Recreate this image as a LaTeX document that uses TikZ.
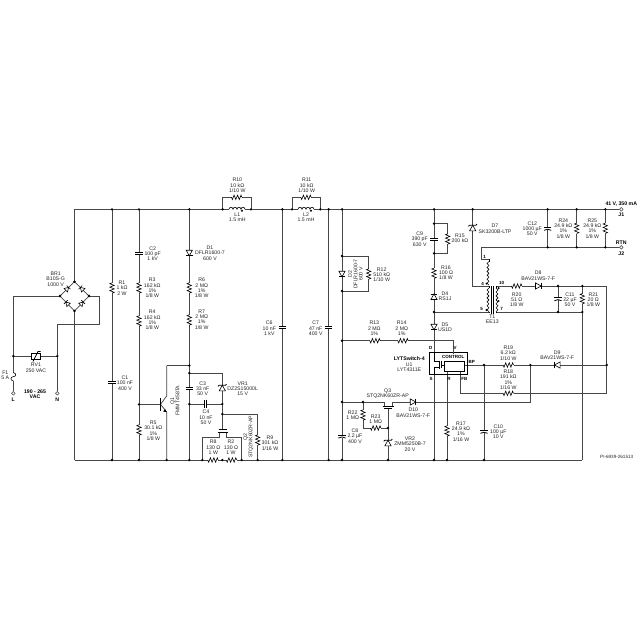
\documentclass[tikz,border=0pt]{standalone}
\usepackage{fontspec}
\setmainfont{Liberation Sans}
\newcommand\lbl[4]{\node[lb] (#1) at (#2,#3) {#4};}
\newcommand\lblb[4]{\node[lbb] (#1) at (#2,#3) {#4};}
\newcommand\pnt[3]{\coordinate (#1) at (#2,#3);}
\tikzset{
  wire/.style={line width=0.75pt,draw=black!72,line join=miter},
  sym/.style={line width=0.6pt,draw=black,line join=miter},
  plate/.style={line width=0.8pt,draw=black},
  dotj/.style={circle,fill=black,inner sep=0,minimum size=2.6pt},
  term/.style={circle,draw=black!75,line width=0.5pt,fill=white,inner sep=0,minimum size=3.6pt},
  lb/.style={font=\fontsize{5.2}{5.3}\selectfont,align=center,inner sep=0,text=black!85},
  lbb/.style={font=\fontsize{5.2}{5.3}\selectfont\bfseries,align=center,inner sep=0,text=black},
  lbs/.style={font=\fontsize{4.5}{5}\selectfont\bfseries,align=center,inner sep=0,text=black},
  rvert/.pic={
    \fill[white] (-2.6,-5.2) rectangle (2.6,5.2);
    \draw[sym] (0,-5.2)--(-2.2,-4.3)--(2.2,-2.6)--(-2.2,-.9)--(2.2,.9)--(-2.2,2.6)--(2.2,4.3)--(0,5.2);
  },
  ccap/.pic={
    \fill[white] (-3.6,-1) rectangle (3.6,1);
    \draw[plate] (-3.6,-1)--(3.6,-1) (-3.6,1)--(3.6,1);
  },
  pcap/.pic={
    \fill[white] (-3.6,-1) rectangle (3.6,1.6);
    \draw[plate] (-3.6,-1)--(3.6,-1);
    \draw[plate] (-3.6,2) .. controls (-1.5,.6) and (1.5,.6) .. (3.6,2);
  },
  diode/.pic={
    \filldraw[sym,fill=white] (-2.8,-3.1)--(2.8,0)--(-2.8,3.1)--cycle;
    \draw[plate] (2.8,-3.3)--(2.8,3.3);
  },
  sdiode/.pic={
    \filldraw[sym,fill=white] (-2,-2.4)--(2,0)--(-2,2.4)--cycle;
    \draw[sym] (2,-2.6)--(2,2.6);
  },
  zener/.pic={
    \filldraw[sym,fill=white] (-2.8,-3.1)--(2.8,0)--(-2.8,3.1)--cycle;
    \draw[plate] (1.6,-4.2)--(2.8,-3.3)--(2.8,3.3)--(4,4.2);
  },
  hcoil/.pic={
    \fill[white] (-8,-2.6) rectangle (8,.6);
    \draw[sym] (-8,0) arc (180:360:2) arc (180:360:2) arc (180:360:2) arc (180:360:2);
    \fill[black] (5,1.4) circle (1.1pt);
  },
  tcoil/.pic={
    \foreach \i in {0,...,5} \draw[sym] (0,\i*3.95) arc (-90:90:1.975);
  },
}
\begin{document}
\begin{tikzpicture}[x=1pt,y=-1pt]
\fill[white] (0,0) rectangle (640,640);
\useasboundingbox (0,0) rectangle (640,640);
% rails
\foreach \n/\x in {TA/74.5,TB/112,TC/139,TD/189.3,TE/222.7,TF/251,TG/282.3,TH/292,TI/320.3,TJ/328.7,TK/342,TM/434,TN/472.7,TP/547.7,TQ/576.7,TR/605.3}
  {\coordinate (\n) at (\x,209.3);}
\foreach \n/\x in {BA/74.5,BB/112,BC/139,BP1/166.7,BD/189.3,BE/202.3,BF/222.3,BG/241.7,BH/257.7,BI/282.3,BJ/328.7,BK/342,BM/388,BN/434,BS/447,BQ/484,BR/582.3}
  {\coordinate (\n) at (\x,460);}
\foreach \n/\x in {RP/547.7,RQ/576.7,RR/605.3}
  {\coordinate (\n) at (\x,247.3);}
\node[term] (J1) at (621.3,209.3) {};
\node[term] (J2) at (621.3,247.3) {};
\node[term] (tL) at (13.3,393.3) {};
\node[term] (tN) at (57.3,393.3) {};
% points
\pnt{brT}{74.5}{281.7}\pnt{brL}{60}{296}\pnt{brR}{89}{296}\pnt{brB}{74.5}{311}
\pnt{br1}{99.3}{296}\pnt{br2}{99.3}{324.7}\pnt{br3}{57.3}{324.7}
\pnt{rvL}{13.3}{356}\pnt{rvR}{57.3}{356}
\pnt{cJ}{189.3}{365.5}\pnt{cC}{166.7}{365.5}\pnt{vA}{189.3}{373}\pnt{vB}{222.3}{373}
\pnt{nB}{139}{404.3}\pnt{nC}{189.3}{404}\pnt{nD}{222.3}{404}\pnt{nE}{222.3}{414}\pnt{nF}{257.7}{414}
\pnt{qB}{160.5}{404.3}\pnt{qC}{166.7}{396}\pnt{qE}{166.7}{412}
\pnt{lA}{222.7}{197.3}\pnt{lB}{251}{197.3}\pnt{lC}{292}{197.3}\pnt{lD}{320.3}{197.3}
\pnt{dA}{342}{256}\pnt{dB}{342}{291}\pnt{dC}{368.7}{256}\pnt{dD}{368.7}{291}
\pnt{cA}{434}{223.7}\pnt{cB}{434}{253.3}\pnt{cAr}{447.7}{223.7}\pnt{cBr}{447.7}{253.3}
\pnt{pSW}{434}{312}\pnt{uD}{434}{352.3}\pnt{uS}{434}{374.3}
\pnt{rA}{342}{340.7}\pnt{rB}{453.3}{340.7}\pnt{uV}{453.3}{352.3}
\pnt{uR}{447}{371}\pnt{uFB}{460}{371}\pnt{uBP}{464}{365}
\pnt{nBP}{484}{365}\pnt{nD9}{530.3}{365}\pnt{nR}{606.7}{365}
\pnt{fbA}{460}{393.3}\pnt{fbB}{606.7}{393.3}
\pnt{gA}{342}{402}\pnt{gB}{363}{402}\pnt{gC}{384}{402}\pnt{gD}{392}{402}\pnt{gE}{530.3}{402}
\pnt{gF}{363}{428}\pnt{gG}{388}{428}
\pnt{d7b}{472.7}{286}\pnt{prA}{489}{286}\pnt{prB}{489}{312}\pnt{sA}{496}{286}\pnt{sB}{496}{312}
\pnt{rtnA}{481.7}{247.3}\pnt{rtnB}{481.7}{259}\pnt{rtnC}{489}{259}
\pnt{sC}{558}{286}\pnt{sD}{582.3}{286}\pnt{sE}{606.7}{286}\pnt{sF}{558}{312}\pnt{sG}{582.3}{312}
\pnt{q2a}{202.3}{437.3}\pnt{q2b}{219}{437.3}\pnt{q2c}{219}{432.5}\pnt{q2d}{226}{432.5}\pnt{q2e}{226}{437.3}\pnt{q2f}{241.7}{437.3}\pnt{q2g}{222.3}{429}
\pnt{q3a}{384}{406}\pnt{q3b}{392}{406}\pnt{q3g}{388}{408}
% wires
\draw[wire] (TA)--(J1.west) (BA)--(BR);
\draw[wire] (TA)--(brT) (brB)--(BA);
\draw[wire] (brL)--(brT)--(brR)--(brB)--cycle;
\draw[wire] (brL)-|(tL.north);
\draw[wire] (brR)--(br1)--(br2)--(br3)--(tN.north);
\draw[wire] (rvL)--(rvR);
\foreach \a/\b in {TB/BB,TC/BC,TD/BD,TG/BI,TJ/BJ,TK/BK} \draw[wire] (\a)--(\b);
\draw[wire] (cC)--(cJ);
\draw[wire] (cC)--(qC)--(qB);
\draw[wire] (BP1)--(qE)--(qB);
\draw[wire] (nB)--(qB);
\draw[wire] (vA)--(vB)--(nD)--(nC);
\draw[wire] (nD)--(nE)--(nF)--(BH);
\draw[wire] (nE)--(q2g);
\draw[wire] (BE)--(q2a)--(q2b)--(q2c);
\draw[wire] (q2d)--(q2e)--(q2f)--(BG);
\draw[wire] (TE)--(lA)--(lB)--(TF);
\draw[wire] (TH)--(lC)--(lD)--(TI);
\draw[wire] (dA)--(dC)--(dD)--(dB);
\draw[wire] (TM)--(uD);
\draw[wire] (uS)--(BN);
\draw[wire] (cA)--(cAr)--(cBr)--(cB);
\draw[wire] (pSW)--(prB);
\draw[wire] (rA)--(rB)--(uV);
\draw[wire] (uR)--(BS);
\draw[wire] (uFB)--(fbA)--(fbB)--(nR);
\draw[wire] (uBP)--(nR);
\draw[wire] (nBP)--(BQ);
\draw[wire] (gA)--(gC)--(q3a);
\draw[wire] (q3b)--(gD)--(gE)--(nD9);
\draw[wire] (gB)--(gF)--(gG);
\draw[wire] (q3g)--(BM);
\draw[wire] (TN)--(d7b)--(prA);
\draw[wire] (rtnA)--(RR)--(J2.west);
\draw[wire] (rtnA)--(rtnB)--(rtnC);
\draw[wire] (sA)--(sE)--(nR);
\draw[wire] (sB)--(sG);
\draw[wire] (sD)--(BR);
\draw[wire] (sC)--(sF);
\draw[wire] (TP)--(RP) (TQ)--(RQ) (TR)--(RR);
% resistors
\foreach \x/\y in {112/288,139/288,139/321,139/430,189.3/288,189.3/320,257.7/440,368.7/274,447.7/239,434/273.3,363/415,447/431,576.7/228.3,605.3/228.3,582.3/298.7}
  \pic at (\x,\y) {rvert};
\foreach \x/\y in {236.7/197.3,306/197.3,213/460,231.5/460,375/340.7,403/340.7,375.7/428,516.7/286,508.3/365,508.3/393.3}
  \pic[rotate=90] at (\x,\y) {rvert};
% capacitors
\foreach \x/\y in {112/382.7,139/253,189.3/388,282.3/327.7,328.7/327.7,434/239}
  \pic at (\x,\y) {ccap};
\pic[rotate=90] at (205.7,404) {ccap};
\foreach \x/\y in {342/436,484/431.3,547.7/228.3,558/298.7}
  \pic at (\x,\y) {pcap};
% diodes
\foreach \x/\y in {189.3/253,342/274,434/327}
  \pic[rotate=-90] at (\x,\y) {diode};
\pic[rotate=90] at (434,296.7) {diode};
\pic at (538.3,286) {diode};
\pic at (413,402) {diode};
\pic[rotate=180] at (557.3,365) {diode};
\pic[rotate=90] at (472.7,228) {zener};
\pic[rotate=90] at (222.3,388) {zener};
\pic[rotate=90] at (388,443) {zener};
\pic[rotate=45] at (67.2,288.8) {sdiode};
\pic[rotate=135] at (81.8,288.8) {sdiode};
\pic[rotate=135] at (67.2,303.5) {sdiode};
\pic[rotate=45] at (81.8,303.5) {sdiode};
% fuse
\fill[white] (11,372.7) rectangle (15.6,380.7);
\draw[sym] (13.3,372.7) .. controls (16.5,372.7) and (16.5,376.7) .. (13.3,376.7) .. controls (10.1,376.7) and (10.1,380.7) .. (13.3,380.7);
% varistor
\filldraw[sym,fill=white] (31,353.3) rectangle (40,359.7);
\draw[plate] (33,361.5)--(38,351.5)--(40.5,351.5);
% inductors
\pic at (237,209.3) {hcoil};
\pic at (306,209.3) {hcoil};
% transformer
\pic[xscale=-1] at (489,261.5) {tcoil};
\draw[sym] (rtnC)--(489,261.5);
\pic[xscale=-1] at (489,288) {tcoil};
\pic at (496,288) {tcoil};
\draw[sym] (489,286)--(489,288) (496,286)--(496,288) (489,311.7)--(489,312) (496,311.7)--(496,312);
\draw[plate] (491.7,286)--(491.7,314) (493.6,286)--(493.6,314);
\fill[black] (486.5,283.6) circle (1.1pt) (498.6,288.2) circle (1.1pt) (498.6,301) circle (1.1pt) (486.5,310) circle (1.1pt);
% BJT
\draw[line width=1.2pt] (160.5,398)--(160.5,410.5);
\fill[black] (166.7,412)--(163.2,411.6)--(165,409)--cycle;
% MOSFET Q2
\draw[line width=1pt] (217.5,432.5)--(227.5,432.5);
\draw[line width=1pt] (218.5,429.3)--(226.5,429.3);
% MOSFET Q3
\draw[line width=1pt] (382.5,406)--(393.5,406);
\draw[line width=1pt] (384,408.2)--(392,408.2);
% U1
\draw[line width=1.3pt,draw=black] (429.3,352.3) rectangle (467.7,374.3);
\draw[sym,fill=white] (444,361) rectangle (464,371);
\draw[sym] (uD)--(434,361.5)--(439,361.5) (439,367.5)--(434,367.5)--(uS);
\draw[plate] (439.3,360.5)--(439.3,368.5) (441,361)--(441,368);
\draw[sym] (441,365)--(444,365);
\draw[wire] (uV)--(453.3,354);
% junctions
\foreach \n in {TB,TC,TD,TE,TF,TG,TH,TI,TJ,TK,TM,TN,TP,TQ,TR,BB,BC,BP1,BD,BE,BF,BG,BH,BI,BJ,BK,BM,BN,BS,BQ,RP,RQ,RR,brT,brL,brR,brB,rvL,rvR,cJ,vA,nB,nC,nD,nE,dA,dB,cA,cB,pSW,rA,nBP,nD9,nR,gA,gB,gG,sC,sD,sF,sG}
  \node[dotj] at (\n) {};
% labels
\lbl{lBR1}{55.7}{279}{BR1\\B10S-G\\1000 V}
\lbl{lR1}{122}{288}{R1\\1 kΩ\\2 W}
\lbl{lC1}{125}{383}{C1\\100 nF\\400 V}
\lbl{lC2}{152.7}{253.7}{C2\\100 pF\\1 kV}
\lbl{lR3}{152.3}{288}{R3\\162 kΩ\\1\%\\1/8 W}
\lbl{lR4}{152.3}{320}{R4\\162 kΩ\\1\%\\1/8 W}
\lbl{lR5}{153.3}{430.7}{R5\\30.1 kΩ\\1\%\\1/8 W}
\lbl{lD1}{210}{253}{D1\\DFLR1600-7\\600 V}
\lbl{lR6}{201.7}{288}{R6\\2 MΩ\\1\%\\1/8 W}
\lbl{lR7}{201.7}{319.3}{R7\\2 MΩ\\1\%\\1/8 W}
\lbl{lR10}{237.3}{185.3}{R10\\10 kΩ\\1/10 W}
\lbl{lL1}{237.3}{217}{L1\\1.5 mH}
\lbl{lR11}{306.7}{185.3}{R11\\10 kΩ\\1/10 W}
\lbl{lL2}{306}{217}{L2\\1.5 mH}
\lbl{lC6}{269.3}{328.3}{C6\\10 nF\\1 kV}
\lbl{lC7}{315.7}{328.3}{C7\\47 nF\\400 V}
\lbl{lC3}{202.7}{388.7}{C3\\33 nF\\50 V}
\lbl{lC4}{206}{417.3}{C4\\10 nF\\50 V}
\lbl{lVR1}{242.7}{388.7}{VR1\\DZ2S15000L\\15 V}
\node[lb,rotate=90] (lQ1) at (175,400.7) {Q1\\FMMT458TA};
\node[lb,rotate=90] (lQ2) at (248.5,436.7) {Q2\\STQ2NK60ZR-AP};
\lbl{lR8}{213.3}{447.3}{R8\\130 Ω\\1 W}
\lbl{lR2}{231}{447.3}{R2\\130 Ω\\1 W}
\lbl{lR9}{270}{443}{R9\\301 kΩ\\1/16 W}
\lbl{lC9}{419.7}{239}{C9\\390 pF\\630 V}
\lbl{lR15}{460}{238.3}{R15\\200 kΩ}
\lbl{lR16}{446}{272.7}{R16\\100 Ω\\1/8 W}
\lbl{lD4}{445}{296.3}{D4\\RS1J}
\lbl{lD5}{445}{327.3}{D5\\US1D}
\node[lb,rotate=90] (lD2) at (355.5,274) {D2\\DFLR1600-7\\600 V};
\lbl{lR12}{381.7}{274.7}{R12\\510 kΩ\\1/10 W}
\lbl{lR13}{374.3}{328.3}{R13\\2 MΩ\\1\%}
\lbl{lR14}{401.7}{328.3}{R14\\2 MΩ\\1\%}
\lbl{lD7}{495}{228.7}{D7\\SK3200B-LTP}
\lbl{lC12}{532.3}{228.7}{C12\\1000 µF\\50 V}
\lbl{lR24}{563.3}{228.3}{R24\\24.9 kΩ\\1\%\\1/8 W}
\lbl{lR25}{592.3}{228.3}{R25\\24.9 kΩ\\1\%\\1/8 W}
\lblb{lV}{621.3}{204}{41 V, 350 mA}
\lblb{lJ1}{621.3}{215}{J1}
\lblb{lRTN}{621.3}{242.3}{RTN}
\lblb{lJ2}{621.3}{253.3}{J2}
\lbl{lD8}{538.3}{275.7}{D8\\BAV21WS-7-F}
\lbl{lR20}{516.7}{299.7}{R20\\51 Ω\\1/8 W}
\lbl{lC11}{570}{299.7}{C11\\22 µF\\50 V}
\lbl{lR21}{593.3}{299.7}{R21\\20 Ω\\1/8 W}
\lbl{lT1}{492.3}{319.3}{T1\\EE13}
\node[lbs] (p1) at (484.7,256.7) {1};
\node[lbs] (p4) at (482.7,283.7) {4};
\node[lbs] (p5) at (481.7,309.3) {5};
\node[lbs] (p10) at (501.7,283.3) {10};
\node[lbs] (p7) at (501.7,309.3) {7};
\lbl{lR19}{508.3}{353}{R19\\6.2 kΩ\\1/10 W}
\lbl{lR18}{508.3}{379.7}{R18\\191 kΩ\\1\%\\1/16 W}
\lbl{lD9}{557.3}{355}{D9\\BAV21WS-7-F}
\lbl{lC10}{498.3}{431.7}{C10\\100 µF\\10 V}
\lbl{lR17}{461}{431.3}{R17\\24.9 kΩ\\1\%\\1/16 W}
\node[lb,font=\fontsize{4.6}{5}\selectfont] (lPI) at (616.7,456.7) {PI-6939-261513};
\lblb{lLYT}{409.3}{358.7}{LYTSwitch-4}
\lbl{lU1}{409.3}{364.3}{U1}
\lbl{lU1b}{409.3}{369.5}{LYT4311E}
\lbl{lQ3}{387.7}{393.7}{Q3\\STQ2NK60ZR-AP}
\lbl{lD10}{413.3}{412.7}{D10\\BAV21WS-7-F}
\lbl{lR22}{352.7}{415.3}{R22\\1 MΩ}
\lbl{lR23}{375.7}{419.3}{R23\\1 MΩ}
\lbl{lC8}{355}{436}{C8\\2.2 µF\\400 V}
\lbl{lVR2}{410}{444}{VR2\\ZMM5250B-7\\20 V}
\node[lbs] (pD) at (430.7,347.7) {D};
\node[lbs] (pV) at (455,347.7) {V};
\node[lbs] (pS) at (431,378.7) {S};
\node[lbs] (pR) at (449,378.7) {R};
\node[lbs] (pFB) at (464.3,378.7) {FB};
\node[lbs] (pBP) at (471.7,362.3) {BP};
\node[lbs] (lCT) at (453.3,356.7) {CONTROL};
\lbl{lF1}{5.3}{375.3}{F1\\5 A}
\lbl{lRV1}{36}{367.7}{RV1\\250 VAC}
\lblb{lVAC}{35}{394.3}{190 - 265\\VAC}
\lblb{lL}{13.3}{400}{L}
\lblb{lN}{57.3}{400}{N}
\end{tikzpicture}
\end{document}
